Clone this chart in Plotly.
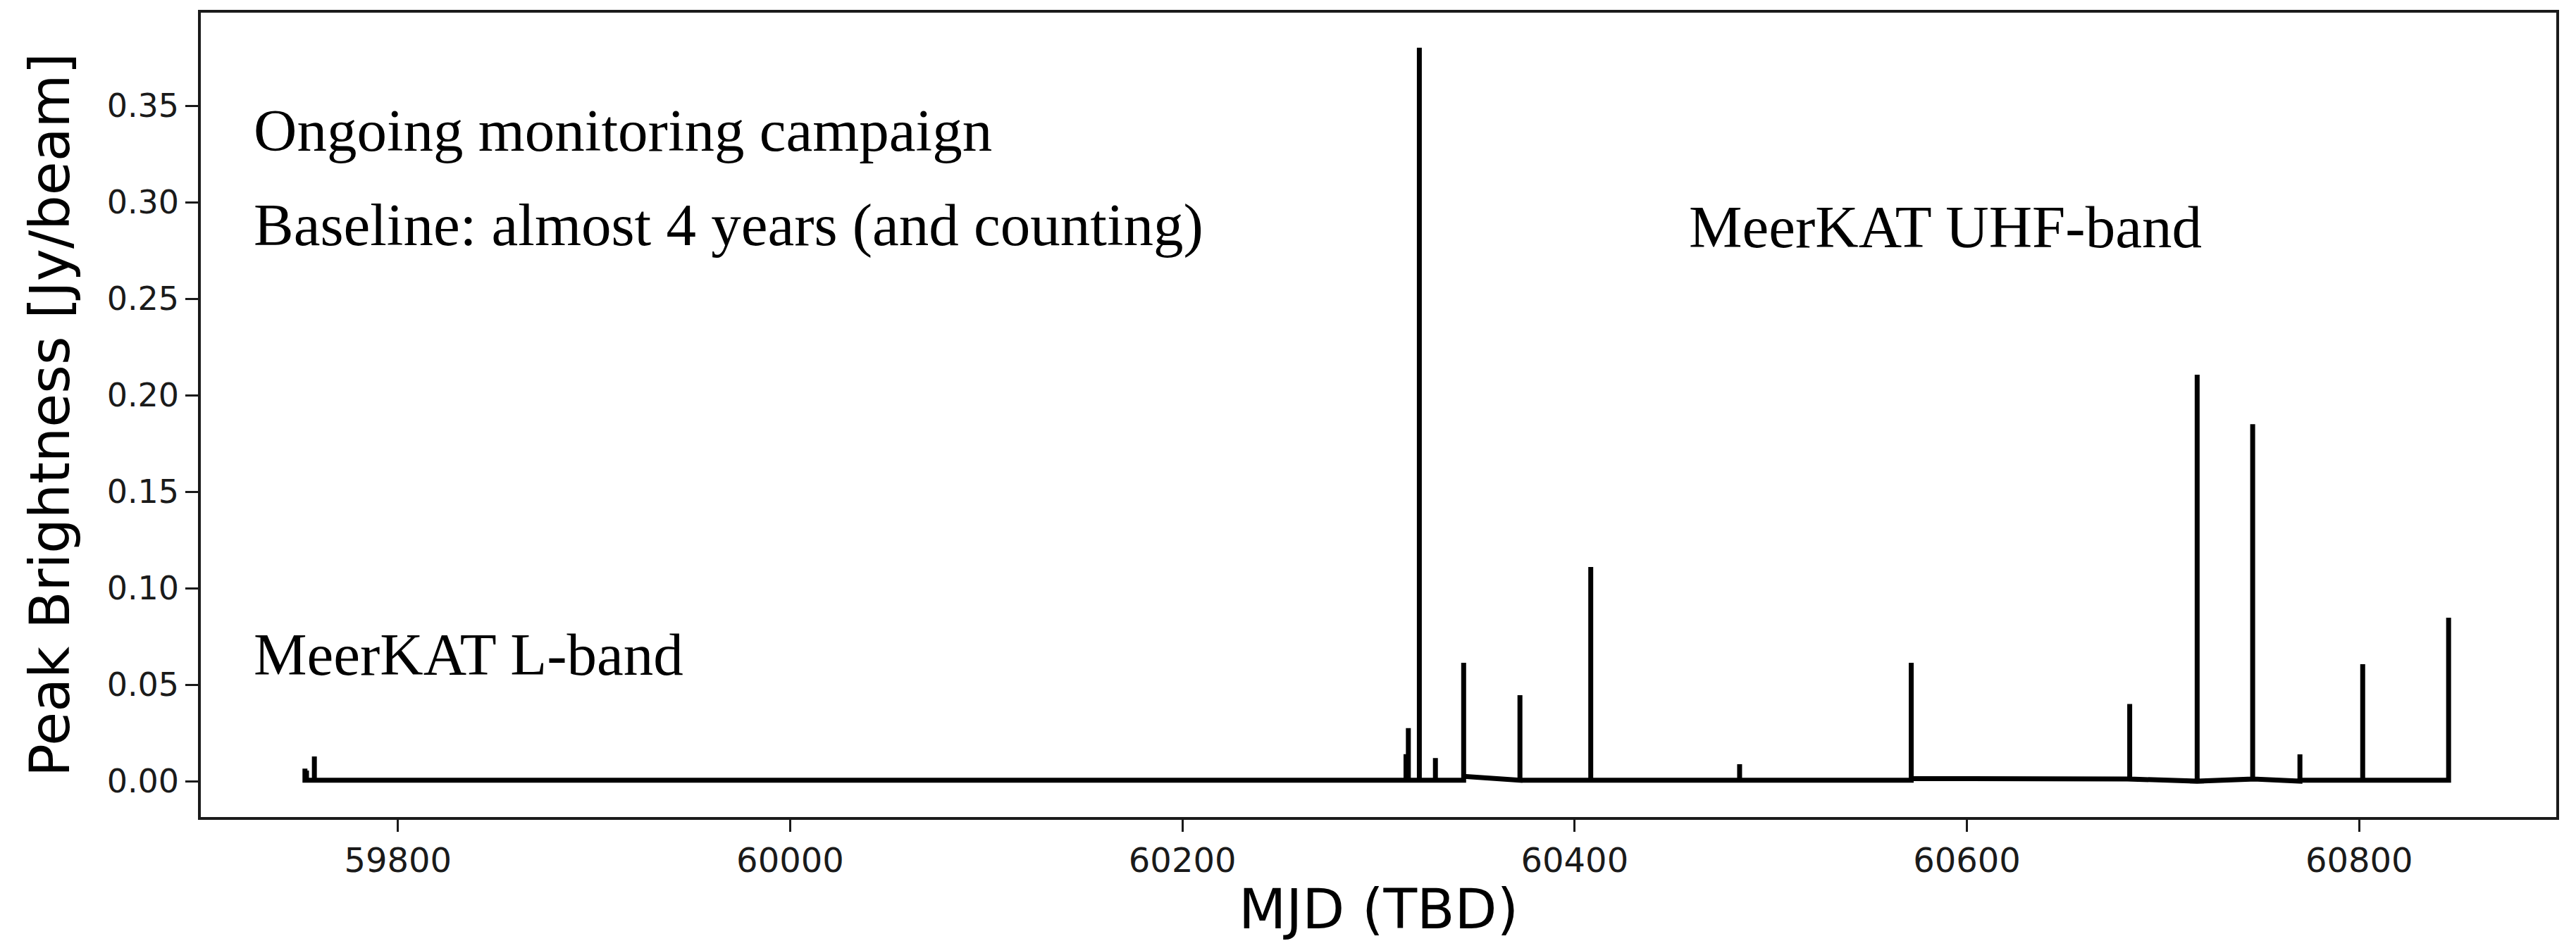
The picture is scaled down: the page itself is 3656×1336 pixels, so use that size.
import plotly.graph_objects as go

# ---- data ----
mjd = [59752.6, 59753.4, 59757.4, 60314.0, 60315.2, 60320.8, 60329.0, 60343.4,
       60372.1, 60408.2, 60484.1, 60571.6, 60683.0, 60717.4, 60745.7, 60769.8,
       60801.8, 60845.6]
peak = [0.0065, 0.0055, 0.0128, 0.0140, 0.0275, 0.380, 0.0120, 0.0613,
        0.0445, 0.1110, 0.0088, 0.0613, 0.0400, 0.2106, 0.1850, 0.0139,
        0.0606, 0.0847]
base_in = [0.0005, 0.0005, 0.0005, 0.0005, 0.0005, 0.0005, 0.0005, 0.0005,
           0.0005, 0.0005, 0.0005, 0.0005, 0.0011, 0.0000, 0.0011, 0.0000,
           0.0005, 0.0005]
base_out = [0.0005, 0.0005, 0.0005, 0.0005, 0.0005, 0.0005, 0.0005, 0.0025,
            0.0005, 0.0005, 0.0005, 0.0014, 0.0011, 0.0000, 0.0011, 0.0005,
            0.0005, 0.0005]

x_ticks = [59800, 60000, 60200, 60400, 60600, 60800]
x_ticktext = [str(v) for v in x_ticks]
y_ticks = [0.00, 0.05, 0.10, 0.15, 0.20, 0.25, 0.30, 0.35]
y_ticktext = [f"{v:.2f}" for v in y_ticks]

x_label = "MJD (TBD)"
y_label = "Peak Brightness [Jy/beam]"
notes = ["Ongoing monitoring campaign",
         "Baseline: almost 4 years (and counting)",
         "MeerKAT UHF-band",
         "MeerKAT L-band"]

# ---- build the line (each epoch rises to its peak and returns) ----
xs, ys = [], []
for m, p, bi, bo in zip(mjd, peak, base_in, base_out):
    xs += [m, m, m]
    ys += [bi, p, bo]

fig = go.Figure()
fig.add_trace(go.Scatter(x=xs, y=ys, mode="lines",
                         line=dict(color="black", width=7),
                         showlegend=False, hoverinfo="skip"))

axis_common = dict(showline=True, linecolor="#1a1a1a", linewidth=3.5,
                   mirror=True, showgrid=False, zeroline=False,
                   ticks="outside", tickcolor="#1a1a1a")

fig.update_layout(
    width=3656, height=1336,
    margin=dict(l=285, r=28, t=18, b=176, autoexpand=False),
    paper_bgcolor="white", plot_bgcolor="white",
    xaxis=dict(range=[59699.5, 60900.5], tickvals=x_ticks, ticktext=x_ticktext,
               ticklen=17, tickwidth=2.5,
               tickfont=dict(family="DejaVu Sans", size=48, color="#1a1a1a"),
               title=dict(text=x_label, standoff=22,
                          font=dict(family="DejaVu Sans", size=78, color="black")),
               **axis_common),
    yaxis=dict(range=[-0.0186, 0.3982], tickvals=y_ticks, ticktext=y_ticktext,
               ticklen=18, tickwidth=3,
               tickfont=dict(family="DejaVu Sans", size=46, color="#1a1a1a"),
               title=dict(text=y_label, standoff=28,
                          font=dict(family="DejaVu Sans", size=78, color="black")),
               **axis_common),
)

serif = dict(family="Liberation Serif", size=85, color="black")
positions = [(0.0218, 0.8538), (0.0218, 0.7356), (0.6312, 0.7340), (0.0218, 0.2027)]
for txt, (px, py) in zip(notes, positions):
    fig.add_annotation(text=txt, xref="paper", yref="paper", x=px, y=py,
                       xanchor="left", yanchor="middle", showarrow=False,
                       font=serif)

fig.write_html("out.html", config={"displayModeBar": False},
               post_script="document.body.style.margin='0';")
